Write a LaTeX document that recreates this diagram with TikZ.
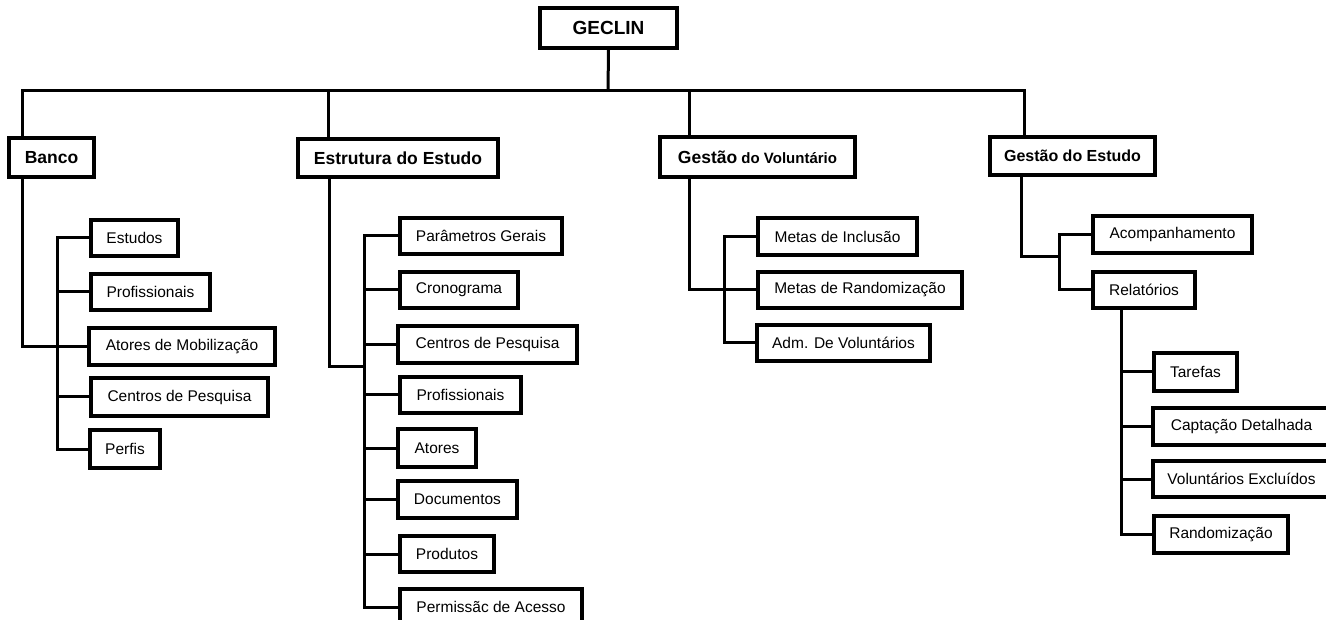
\documentclass[tikz,border=0pt]{standalone}
\usepackage{fontspec}
\setmainfont{Liberation Sans}
\begin{document}
\begin{tikzpicture}[x=1pt,y=-1pt,
  cbox/.style={draw, line width=3.2pt, inner sep=0pt, font=\fontsize{15.5}{18}\selectfont},
  hbox/.style={draw, line width=3.2pt, inner sep=0pt, font=\fontsize{17.5}{20}\selectfont\bfseries},
  conn/.style={line width=3pt}]
\clip (0,0) rectangle (1326,620);
\fill[white] (0,0) rectangle (1326,620);

% top
\node[hbox, font=\fontsize{19}{22}\selectfont\bfseries, minimum width=137pt, minimum height=40pt] (geclin) at (608.5,28) {GECLIN};
\coordinate (bus) at (608,91);

% level 1
\node[hbox, minimum width=85pt, minimum height=39pt] (banco) at (51.5,157.5) {Banco};
\node[hbox, minimum width=200pt, minimum height=38pt] (estrut) at (398,158) {Estrutura do Estudo};
\node[hbox, minimum width=195pt, minimum height=40pt] (gvol) at (757.5,157) {Gestão{\fontsize{15}{18}\selectfont\ do Voluntário}};
\node[hbox, font=\fontsize{16}{19}\selectfont\bfseries, minimum width=165pt, minimum height=38pt] (gest) at (1072.5,156) {Gestão do Estudo};

% Banco children
\node[cbox, minimum width=87pt, minimum height=36pt] (b1) at (134.5,238) {Estudos};
\node[cbox, minimum width=119pt, minimum height=36pt] (b2) at (150.5,292) {Profissionais};
\node[cbox, minimum width=186pt, minimum height=37pt] (b3) at (182,346.5) {Atores de Mobilização};
\node[cbox, minimum width=177pt, minimum height=38pt] (b4) at (179.5,397) {Centros de Pesquisa};
\node[cbox, minimum width=70pt, minimum height=38pt] (b5) at (125,449) {Perfis};

% Estrutura children
\node[cbox, minimum width=162pt, minimum height=36pt] (e1) at (481,236) {Parâmetros Gerais};
\node[cbox, minimum width=118pt, minimum height=36pt] (e2) at (459,290) {Cronograma};
\node[cbox, minimum width=179pt, minimum height=37pt] (e3) at (487.5,344.5) {Centros de Pesquisa};
\node[cbox, minimum width=121pt, minimum height=36pt] (e4) at (460.5,395) {Profissionais};
\node[cbox, minimum width=78pt, minimum height=38pt] (e5) at (437,448) {Atores};
\node[cbox, minimum width=119pt, minimum height=37pt] (e6) at (457.5,499.5) {Documentos};
\node[cbox, minimum width=94pt, minimum height=36pt] (e7) at (447,554) {Produtos};
\node[cbox, minimum width=182pt, minimum height=36pt] (e8) at (491,607) {Permissãc de Acesso};

% Gestão do Voluntário children
\node[cbox, minimum width=159pt, minimum height=37pt] (v1) at (837.5,236.5) {Metas de Inclusão};
\node[cbox, minimum width=204pt, minimum height=36pt] (v2) at (860,290) {Metas de Randomização};
\node[cbox, minimum width=173pt, minimum height=36pt] (v3) at (843.5,343) {Adm. De Voluntários};

% Gestão do Estudo children
\node[cbox, minimum width=159pt, minimum height=37pt] (g1) at (1172.5,234.5) {Acompanhamento};
\node[cbox, minimum width=102pt, minimum height=36pt] (g2) at (1144,290) {Relatórios};
\node[cbox, minimum width=83pt, minimum height=38pt] (r1) at (1195.5,372) {Tarefas};
\node[cbox, minimum width=177pt, minimum height=37pt] (r2) at (1241.5,426.5) {Captação Detalhada};
\node[cbox, minimum width=177pt, minimum height=36pt] (r3) at (1241.5,479) {Voluntários Excluídos};
\node[cbox, minimum width=134pt, minimum height=37pt] (r4) at (1221,534.5) {Randomização};

% top connectors
\draw[conn] (geclin.south) -- (bus);
\draw[conn] ([xshift=15pt]banco.north west) |- (bus);
\draw[conn] ([xshift=-132pt]gest.north east) |- (bus);
\draw[conn] ([xshift=32pt]estrut.north west) -- ([xshift=32pt]estrut.north west |- bus);
\draw[conn] ([xshift=31pt]gvol.north west) -- ([xshift=31pt]gvol.north west |- bus);

% Banco subtree
\coordinate (bb) at (57,0);
\draw[conn] ([xshift=15pt]banco.south west) |- (b3.west);
\draw[conn] (b1.west) -- (bb |- b1.west) -- (bb |- b5.west) -- (b5.west);
\draw[conn] (bb |- b2.west) -- (b2.west);
\draw[conn] (bb |- b4.west) -- (b4.west);

% Estrutura subtree
\coordinate (eb) at (364,367);
\draw[conn] ([xshift=33pt]estrut.south west) |- (eb);
\draw[conn] (e1.west) -- (eb |- e1.west) -- (eb |- e8.west) -- (e8.west);
\foreach \n in {e2,e3,e4,e5,e6,e7} \draw[conn] (eb |- \n.west) -- (\n.west);

% Gestão do Voluntário subtree
\coordinate (vb) at (724,0);
\draw[conn] ([xshift=31pt]gvol.south west) |- (v2.west);
\draw[conn] (v1.west) -- (vb |- v1.west) -- (vb |- v3.west) -- (v3.west);

% Gestão do Estudo subtree
\coordinate (gb) at (1059,257);
\draw[conn] ([xshift=33pt]gest.south west) |- (gb);
\draw[conn] (g1.west) -- (gb |- g1.west) -- (gb |- g2.west) -- (g2.west);
\coordinate (rb) at (1121,0);
\draw[conn] (rb |- g2.south) |- (r4.west);
\foreach \n in {r1,r2,r3} \draw[conn] (rb |- \n.west) -- (\n.west);
\end{tikzpicture}
\end{document}
